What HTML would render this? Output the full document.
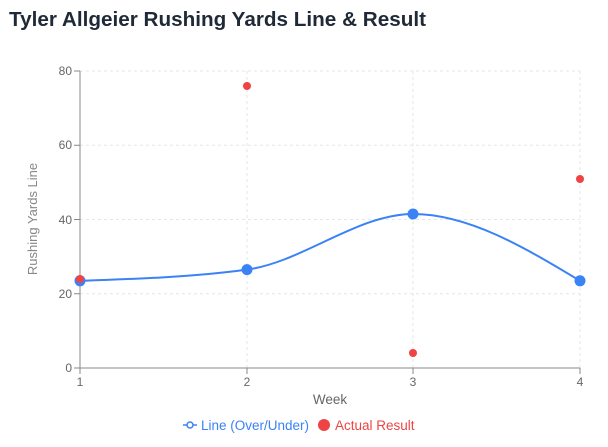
<!DOCTYPE html>
<html><head><meta charset="utf-8"><style>
html,body{margin:0;padding:0;background:#fff;width:608px;height:447px;overflow:hidden}
</style></head><body>
<svg width="608" height="447" xmlns="http://www.w3.org/2000/svg" font-family="Liberation Sans, sans-serif">
<text x="9" y="26" font-size="20" font-weight="bold" fill="#1f2937" textLength="417" lengthAdjust="spacingAndGlyphs">Tyler Allgeier Rushing Yards Line &amp; Result</text>
<g stroke="#e5e5e5" stroke-dasharray="3 3" stroke-width="1">
<line x1="80" y1="71" x2="580" y2="71"/><line x1="80" y1="145.25" x2="580" y2="145.25"/>
<line x1="80" y1="219.5" x2="580" y2="219.5"/><line x1="80" y1="293.75" x2="580" y2="293.75"/>
<line x1="247" y1="71" x2="247" y2="368"/><line x1="413" y1="71" x2="413" y2="368"/><line x1="580" y1="71" x2="580" y2="368"/>
</g>
<g stroke="#888" stroke-width="1">
<line x1="80" y1="71" x2="80" y2="368"/><line x1="80" y1="368" x2="580" y2="368"/>
<line x1="74" y1="71" x2="80" y2="71"/><line x1="74" y1="145.25" x2="80" y2="145.25"/><line x1="74" y1="219.5" x2="80" y2="219.5"/><line x1="74" y1="293.75" x2="80" y2="293.75"/><line x1="74" y1="368" x2="80" y2="368"/>
<line x1="80" y1="368" x2="80" y2="374"/><line x1="247" y1="368" x2="247" y2="374"/><line x1="413" y1="368" x2="413" y2="374"/><line x1="580" y1="368" x2="580" y2="374"/>
</g>
<g font-size="12" fill="#666" text-anchor="end">
<text x="72" y="75">80</text><text x="72" y="149">60</text><text x="72" y="224">40</text><text x="72" y="298">20</text><text x="72" y="372">0</text>
</g>
<g font-size="12" fill="#666" text-anchor="middle">
<text x="80" y="386">1</text><text x="247" y="386">2</text><text x="413" y="386">3</text><text x="580" y="386">4</text>
<text x="330" y="404" font-size="13.5">Week</text>
</g>
<text transform="translate(37,219) rotate(-90)" font-size="13" fill="#888" text-anchor="middle">Rushing Yards Line</text>
<path d="M80,280.8 C135.6,278.9 191.4,277.1 247,269.6 C302.6,262.1 357.4,214 413,214 C468.6,214 524.4,247.4 580,280.8" fill="none" stroke="#3b82f6" stroke-width="2"/>
<g fill="#3b82f6"><circle cx="80" cy="280.8" r="5.5"/><circle cx="247" cy="269.6" r="5.5"/><circle cx="413" cy="214" r="5.5"/><circle cx="580" cy="280.8" r="5.5"/></g>
<g fill="#ef4444"><circle cx="80" cy="279" r="4"/><circle cx="247" cy="86" r="4"/><circle cx="413" cy="353" r="4"/><circle cx="580" cy="179" r="4"/></g>
<line x1="183" y1="425" x2="197" y2="425" stroke="#3b82f6" stroke-width="1.5"/><circle cx="190" cy="425" r="3" fill="#fff" stroke="#3b82f6" stroke-width="1.5"/>
<text x="201" y="430" font-size="13.5" fill="#3b82f6">Line (Over/Under)</text>
<circle cx="324" cy="425" r="6" fill="#ef4444"/>
<text x="335" y="430" font-size="13.5" fill="#ef4444">Actual Result</text>
</svg>
</body></html>
